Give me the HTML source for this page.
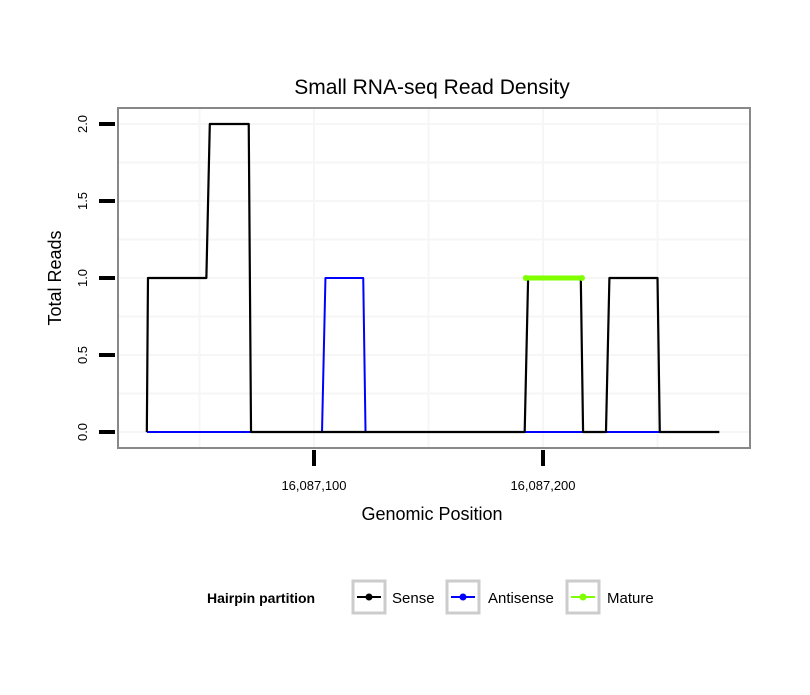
<!DOCTYPE html>
<html><head><meta charset="utf-8"><style>
body{margin:0;background:#fff;font-family:"Liberation Sans",sans-serif;}
</style></head><body>
<svg width="810" height="690" xmlns="http://www.w3.org/2000/svg">
<rect width="810" height="690" fill="#fff"/>
<text x="432" y="94" font-size="21" text-anchor="middle" fill="#000">Small RNA-seq Read Density</text>
<g id="grid"></g>
<g id="series"></g>
<rect x="118" y="108" width="632" height="340" fill="none" stroke="#888" stroke-width="2"/>
<g id="axes"></g>
<text x="432" y="520" font-size="18" text-anchor="middle">Genomic Position</text>
<text transform="translate(61,278) rotate(-90)" font-size="18" text-anchor="middle">Total Reads</text>
<g>
<text x="207" y="603" font-size="14" font-weight="bold">Hairpin partition</text>
<g>
<rect x="353" y="581" width="32" height="32" fill="#fff" stroke="#ccc" stroke-width="3"/>
<line x1="357" y1="597" x2="381" y2="597" stroke="#000" stroke-width="2"/><circle cx="369" cy="597" r="3.5" fill="#000"/>
<text x="392" y="603" font-size="15">Sense</text></g>
<g>
<rect x="447" y="581" width="32" height="32" fill="#fff" stroke="#ccc" stroke-width="3"/>
<line x1="451" y1="597" x2="475" y2="597" stroke="#00f" stroke-width="2"/><circle cx="463" cy="597" r="3.5" fill="#00f"/>
<text x="488" y="603" font-size="15">Antisense</text></g>
<g>
<rect x="567" y="581" width="32" height="32" fill="#fff" stroke="#ccc" stroke-width="3"/>
<line x1="571" y1="597" x2="595" y2="597" stroke="#7fff00" stroke-width="2"/><circle cx="583" cy="597" r="3.5" fill="#7fff00"/>
<text x="607" y="603" font-size="15">Mature</text></g>
</g>
</svg>
<script>
const xTicks=[16087100,16087200];
const xTickLabels=["16,087,100","16,087,200"];
const xGrid=[16087050,16087100,16087150,16087200,16087250];
const yGrid=[0,0.25,0.5,0.75,1,1.25,1.5,1.75,2];
const yTicks=[0,0.5,1,1.5,2];
const yTickLabels=["0.0","0.5","1.0","1.5","2.0"];
const senseX=[16087027,16087027.5,16087053,16087054.5,16087071.5,16087072.5,16087192,16087193.5,16087216.5,16087217.5,16087227.5,16087229,16087250,16087251,16087277];
const senseY=[0,1,1,2,2,0,0,1,1,0,0,1,1,0,0];
const antiX=[16087027,16087103.5,16087105,16087121.5,16087122.5,16087251];
const antiY=[0,0,1,1,0,0];
const matureX=[16087192.5,16087217];
const matureY=[1,1];
const NS="http://www.w3.org/2000/svg";
const xs=v=>314+(v-16087100)*2.29;
const ys=v=>432-v*154;
function mk(tag,attrs,parent){const e=document.createElementNS(NS,tag);for(const k in attrs)e.setAttribute(k,attrs[k]);parent.appendChild(e);return e;}
const grid=document.getElementById('grid'),ser=document.getElementById('series'),ax=document.getElementById('axes');
for(const g of xGrid){const l=mk('line',{x1:xs(g),x2:xs(g),y1:109,y2:447,stroke:'#f6f6f6','stroke-width':2},grid);

}
for(const v of yGrid){const l=mk('line',{x1:119,x2:749,y1:ys(v),y2:ys(v),stroke:'#f6f6f6','stroke-width':2},grid);

}
function path(X,Y,color,w,name){const d=X.map((x,i)=>(i?'L':'M')+xs(x)+','+ys(Y[i])).join(' ');
const p=mk('path',{d:d,fill:'none',stroke:color,'stroke-width':w,'stroke-linejoin':'round'},ser);

}
path(antiX,antiY,'#0000ff',2,'antisense-line');
path(senseX,senseY,'#000',2.2,'sense-line');
path(matureX,matureY,'#7fff00',5,'mature-line');
matureX.forEach((x,i)=>{const c=mk('circle',{cx:xs(x),cy:ys(matureY[i]),r:3,fill:'#7fff00'},ser);

});
yTicks.forEach((v,i)=>{const l=mk('line',{x1:99,x2:115,y1:ys(v),y2:ys(v),stroke:'#000','stroke-width':4},ax);


const t=mk('text',{transform:`translate(87,${ys(v)}) rotate(-90)`,'font-size':13,'text-anchor':'middle',fill:'#000'},ax);t.textContent=yTickLabels[i];

});
xTicks.forEach((v,i)=>{const l=mk('line',{x1:xs(v),x2:xs(v),y1:450,y2:466,stroke:'#000','stroke-width':4},ax);


const t=mk('text',{x:xs(v),y:490,'font-size':13,'text-anchor':'middle',fill:'#000'},ax);t.textContent=xTickLabels[i];

});
</script>
</body></html>
